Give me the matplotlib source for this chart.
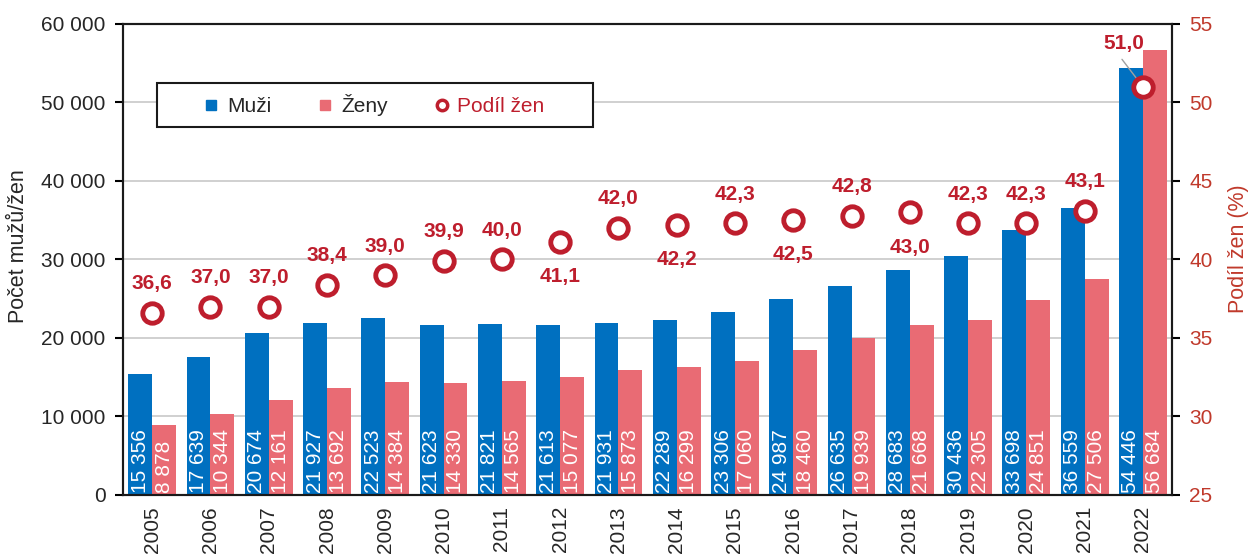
import matplotlib.pyplot as plt
import numpy as np
from matplotlib.lines import Line2D
from matplotlib.patches import Rectangle

plt.rcParams['font.family'] = ['Liberation Sans', 'DejaVu Sans']

# ── Data ───────────────────────────────────────────────────────────────
years = ["2005", "2006", "2007", "2008", "2009", "2010", "2011", "2012", "2013",
         "2014", "2015", "2016", "2017", "2018", "2019", "2020", "2021", "2022"]
muzi = [15356, 17639, 20674, 21927, 22523, 21623, 21821, 21613, 21931,
        22289, 23306, 24987, 26635, 28683, 30436, 33698, 36559, 54446]
zeny = [8878, 10344, 12161, 13692, 14384, 14330, 14565, 15077, 15873,
        16299, 17060, 18460, 19939, 21668, 22305, 24851, 27506, 56684]
podil = [36.6, 37.0, 37.0, 38.4, 39.0, 39.9, 40.0, 41.1, 42.0,
         42.2, 42.3, 42.5, 42.8, 43.0, 42.3, 42.3, 43.1, 51.0]

# label placement for the share values (style only)
below = {"2012", "2014", "2016", "2018"}

BLUE = "#0070C0"
PINK = "#E96B74"
RED = "#BE1E2D"
AXRED = "#C0392B"
DARK = "#262626"
FS = 15


def fmt_int(v):
    return f"{v:,}".replace(",", " ")


def fmt_pct(v):
    return f"{v:.1f}".replace(".", ",")


# ── Plot ───────────────────────────────────────────────────────────────
fig = plt.figure(figsize=(12.49, 5.54), dpi=100)
ax = fig.add_axes([0.0985, 0.1065, 0.8399, 0.8502])
ax2 = ax.twinx()

x = np.arange(len(years))
w = 0.41
ax.bar(x - w / 2, muzi, width=w, color=BLUE, zorder=2)
ax.bar(x + w / 2, zeny, width=w, color=PINK, zorder=2)

for xi, m, z in zip(x, muzi, zeny):
    for xx, v in ((xi - w / 2, m), (xi + w / 2, z)):
        ax.annotate(fmt_int(v), (xx, 0), xytext=(0, 1.5),
                    textcoords='offset points', rotation=90,
                    ha='center', va='bottom', color='white', fontsize=FS,
                    zorder=3)

ax.set_xlim(-0.5, len(years) - 0.5)
ax.set_ylim(0, 60000)
ax.set_yticks(np.arange(0, 60001, 10000))
ax.set_yticklabels([fmt_int(v) for v in range(0, 60001, 10000)],
                   fontsize=FS, color=DARK)
ax.set_xticks(x)
ax.set_xticklabels(years, rotation=90, fontsize=FS, color=DARK)
ax.tick_params(axis='x', length=0, pad=8)
ax.tick_params(axis='y', length=5.5, width=1.5, direction='out', pad=7)
ax.grid(axis='y', color='#C8C8C8', linewidth=1.2, zorder=0)
ax.set_axisbelow(True)
ax.set_ylabel("Počet mužů/žen", fontsize=15.5, color=DARK)
ax.yaxis.set_label_coords(-0.0895, 0.529)

# Share of women (right axis)
ax2.plot(x, podil, ls='none', marker='o', markersize=14,
         markerfacecolor='white', markeredgecolor=RED, markeredgewidth=3.5,
         zorder=5)
for xi, yr, p in zip(x, years, podil):
    if yr == "2022":
        ax2.annotate(fmt_pct(p), (xi, p), xytext=(-14, 31),
                     textcoords='offset points', ha='center', va='center',
                     fontsize=FS, fontweight='bold', color=RED, zorder=4,
                     arrowprops=dict(arrowstyle='-', color='#A0A0A0', lw=1,
                                     relpos=(0.35, 0.0),
                                     shrinkA=3, shrinkB=3))
    else:
        dy = -25 if yr in below else 21
        ax2.annotate(fmt_pct(p), (xi, p), xytext=(0, dy),
                     textcoords='offset points', ha='center', va='center',
                     fontsize=FS, fontweight='bold', color=RED)

ax2.set_ylim(25, 55)
ax2.set_yticks(np.arange(25, 56, 5))
ax2.tick_params(axis='y', length=5.5, width=1.5, direction='out', pad=7,
                labelsize=FS, labelcolor=AXRED)
ax2.set_ylabel("Podíl žen (%)", fontsize=15.5, color=AXRED)
ax2.yaxis.set_label_coords(1.0534, 0.524)

for a in (ax, ax2):
    for s in a.spines.values():
        s.set_linewidth(1.5)
        s.set_color('#1A1A1A')

# Legend: framed box drawn separately so the entries can sit centred in it
ax2.add_patch(Rectangle((0.0324, 0.781), 0.4156, 0.0934,
                        transform=ax2.transAxes, facecolor='white',
                        edgecolor='#1A1A1A', linewidth=1.5, zorder=6,
                        clip_on=False))
handles = [
    Line2D([], [], ls='none', marker='s', markersize=7, color=BLUE),
    Line2D([], [], ls='none', marker='s', markersize=7, color=PINK),
    Line2D([], [], ls='none', marker='o', markersize=7.5,
           markerfacecolor='white', markeredgecolor=RED, markeredgewidth=2.5),
]
leg = ax2.legend(handles, ["Muži", "Ženy", "Podíl žen"], ncol=3,
                 loc='center', bbox_to_anchor=(0.24, 0.828),
                 fontsize=FS, frameon=False, handlelength=0.6,
                 handletextpad=0.45, columnspacing=2.3, borderpad=0)
leg.set_zorder(7)
leg.get_texts()[0].set_color(DARK)
leg.get_texts()[1].set_color(DARK)
leg.get_texts()[2].set_color(RED)

fig.savefig("out.png", dpi=100)
